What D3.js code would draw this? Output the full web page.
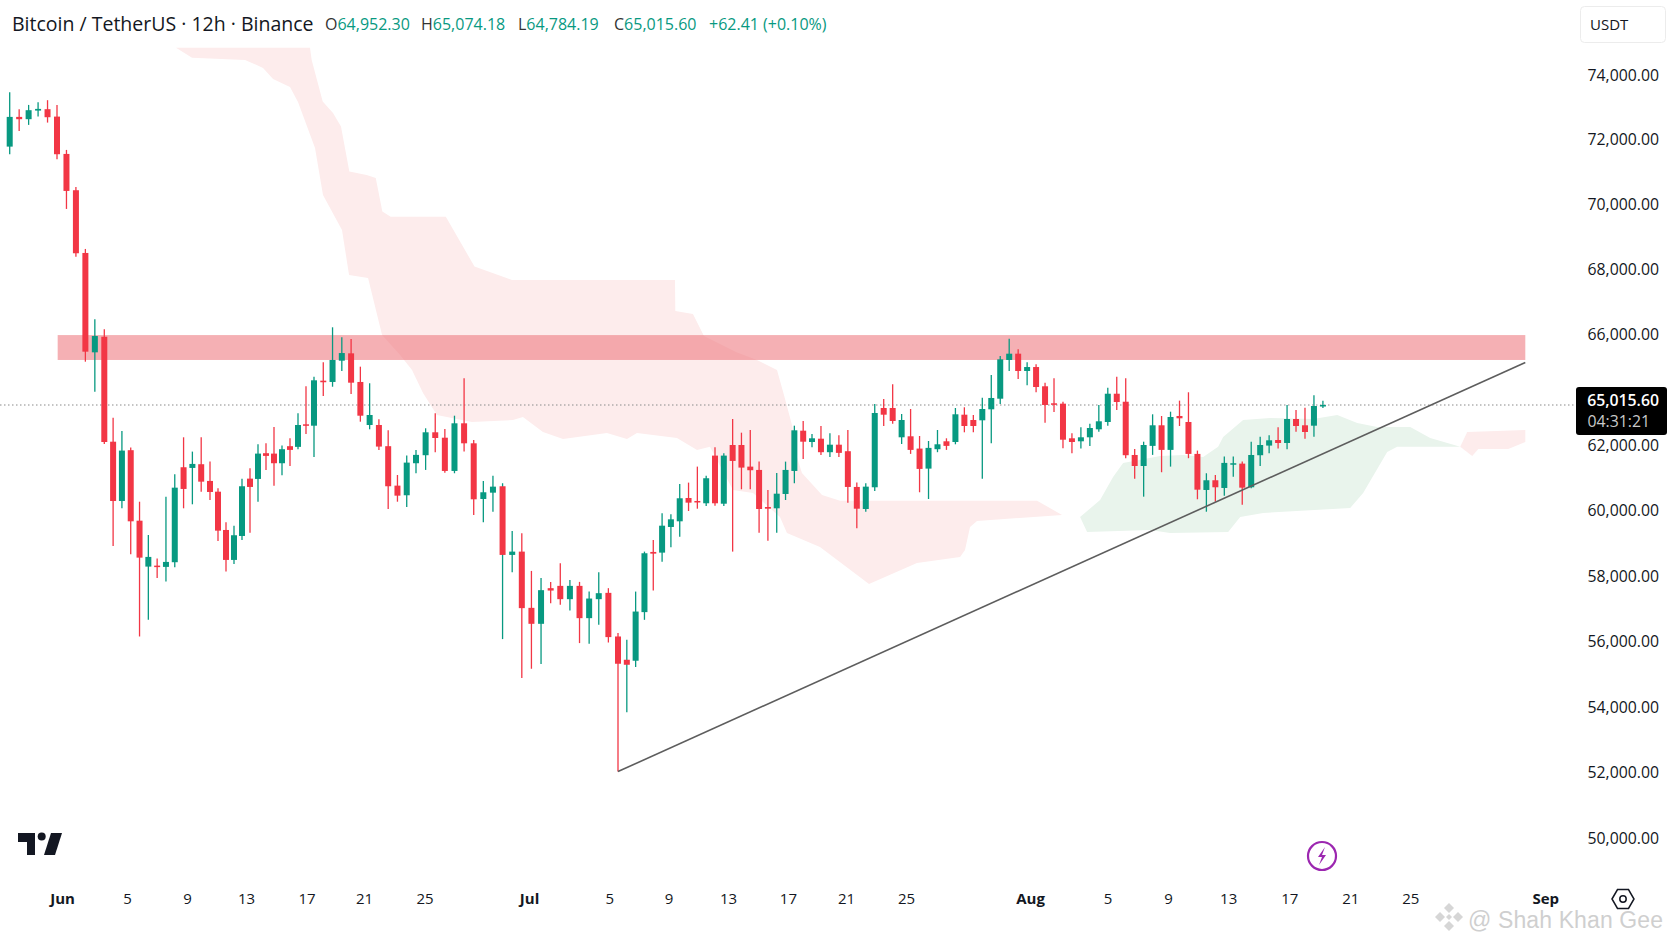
<!DOCTYPE html>
<html>
<head>
<meta charset="utf-8">
<script src="https://cdn.jsdelivr.net/npm/d3@7"></script>
<style>
  html, body { margin: 0; padding: 0; background: #fff; }
  svg { display: block; font-family: "Open Sans", sans-serif; }
</style>
</head>
<body>
<svg id="chart" width="1672" height="941"></svg>
<script>
// 12h candles
var opens = [71788,72706,72635,72900,72944,72715,71562,70441,68503,65746,
  65962,62249,60295,61842,59695,58292,58322,58283,58426,61323,
  61302,61415,60906,60579,59411,58496,59228,60976,60967,61750,
  61738,61445,61964,61943,63560,63456,65353,65335,65630,65732,
  65335,63508,63508,61964,60763,60470,61445,61689,62958,62550,
  61210,63636,62128,60357,60549,60744,58649,58750,57032,56544,
  57633,57703,57297,57703,56717,57297,57490,56157,55446,55416,
  56901,58740,58719,59503,59676,60387,60296,60226,61677,60213,
  62000,62000,61342,61241,60113,60073,60509,61210,63079,62226,
  62475,61781,62023,61811,60723,60052,60713,64790,64790,62581,
  62656,61891,61281,61872,62279,62226,64285,63885,63862,64691,
  65103,65640,65727,65487,65542,65275,65039,65034,62505,62279,
  62581,63184,63735,65172,65061,61696,61361,61973,63486,61851,
  64187,63735,61729,60631,60927,60692,61403,61433,60713,61689,
  61982,62377,62151,63960,63486,63456,64952.30];
var highs = [73469,72944,73076,73160,73222,73076,71686,70543,68627,66455,
  66145,64058,63056,61921,60274,59259,58536,60427,61110,62581,
  61799,62581,61494,60683,59646,59542,60976,61293,62053,62129,
  63357,61982,62505,64390,65275,65408,65608,66207,65954,65931,
  65547,65317,63938,63108,61087,61677,61851,63260,64390,63206,
  64209,65386,62377,60906,61067,60836,59381,59310,58160,57947,
  57825,58396,57886,57825,57529,58121,57633,56260,56056,57529,
  58750,59106,59920,59890,60814,60855,61342,61067,61933,61750,
  63960,62929,63131,61494,60631,61149,61494,63456,63810,62829,
  63432,62882,62732,63131,60855,60836,65030,65099,65303,64337,
  64714,62679,62301,63131,62505,64790,64843,64262,65117,65431,
  65695,65935,65788,65608,65580,65325,65386,65061,62882,63335,
  63606,65016,65256,65408,65386,61882,62249,64315,64187,64511,
  65076,65192,61830,61140,61087,61647,61647,61494,62249,62626,
  62732,63335,65016,64638,64813,65150,65074.18];
var lows = [71553,72273,72459,72715,72530,71399,69863,68389,65616,65200,
  62075,58923,60073,58670,56157,56666,57947,57834,58274,60073,
  60195,60579,60326,59076,58139,58374,59106,59329,60274,61241,
  60763,61080,61361,61872,62829,61631,65140,65269,65487,65168,
  63757,63184,61851,60052,60274,60113,61140,61241,61781,61159,
  61140,61799,59869,59646,59969,56077,58116,54888,55171,55315,
  57175,57123,56950,55955,55934,56514,55973,52030,53839,55224,
  56666,57560,58444,58883,59207,59990,60061,60143,60152,60143,
  58750,60652,60652,59329,59085,59329,60326,60836,61576,61933,
  61699,61637,61637,60245,59463,59969,60601,63433,63606,62075,
  61729,60561,60357,61781,61851,62053,62958,62958,60976,62128,
  65030,65487,65376,65289,65192,63681,64488,61903,61750,61891,
  61973,63003,63456,64638,61598,60976,60427,61699,61171,61342,
  63433,61598,60348,59969,60274,60457,61037,60183,60683,61363,
  61750,61891,61872,63003,62475,62626,64784.19];
var closes = [72706,72635,72913,72953,72696,71553,70419,68494,65755,65972,
  62226,60295,61830,59676,58566,58588,58283,58435,60701,60662,
  61424,60884,60570,59390,58496,59250,60744,60723,61738,61668,
  61445,61872,61851,63508,63456,65358,65331,65640,65736,65325,
  64209,64262,61952,60744,60458,61464,61699,62958,62528,61210,
  63636,62128,60347,60561,60732,58649,58750,57023,56544,57572,
  57560,57297,57703,56717,57316,57480,56138,55324,55293,56919,
  58700,58688,59542,59737,60378,60245,60256,60988,60226,61677,
  61515,61312,61232,60052,60061,60518,61241,63108,62249,62505,
  61781,62023,61760,60723,60061,60732,64413,64285,63810,63885,
  61851,61272,61912,62053,61973,64315,63433,63433,64714,65113,
  65649,65727,65487,65542,65265,65016,65025,62400,62226,62581,
  63282,63787,65172,65057,61689,61361,62000,63486,61851,64111,
  64014,61729,60640,60927,60713,61455,61445,60701,61696,62000,
  62355,62151,63960,63433,62980,64940,65015.60];
// bars whose lower wick shows up teal although the body is red
var tealWicks = [55, 68];

// Ichimoku cloud edges: [bar slot, price]
var redCloudUpper = [[18.14,74838],[34.5,74838],[34.71,74467],[35.94,73178],[37.05,72829],[37.91,72406],[38.81,71016],
  [40.68,70914],[41.66,70821],[42.37,69780],[43.27,69625],[49.1,69625],[52.08,68083],[55.98,67669],[73.46,67669],
  [73.5,66711],[75.5,66618],[76.75,65972],[80.38,65750],[82.76,65640],[85.03,65501],[85.82,65154],[86.73,63508],
  [87.29,61637],[87.86,61149],[90.12,60478],[92.13,60305],[114.11,60305],[116.9,59869]];
var redCloudLower = [[18.14,74838],[19.96,74529],[26.38,74467],[28.63,74220],[29.88,73880],[32,73633],[33,73169],
  [35.11,71748],[35.97,70296],[38.02,69214],[38.78,67823],[40.83,67731],[42.34,65986],[44.28,65709],[45.57,65501],
  [46.73,65182],[48.18,64262],[51.82,63734],[56.08,63885],[57.12,64111],[59.2,62980],[61.28,62453],[65.85,62905],
  [68.02,62453],[69.15,62905],[73.69,62528],[75.96,61851],[77.43,61943],[80.04,60631],[82.31,60540],[85.37,59807],
  [86.16,59320],[89.89,58892],[95.36,57764],[100.71,58404],[105.52,58587],[106.07,58801],[106.63,59503],[107.41,59686],
  [116.9,59869]];
var greenCloudUpper = [[116.9,59869],[118.91,59807],[121.14,60326],[122.59,61027],[123.71,61455],[127.84,61668],
  [130.41,61699],[132.64,61637],[134.31,61943],[134.87,62603],[137.1,63885],[140.12,64036],[144.92,63960],[147.6,64262],
  [149.83,63659],[152.06,63357],[155.74,63357],[157.97,62528],[161.32,61943]];
var greenCloudLower = [[116.9,59869],[118.91,59807],[119.69,59350],[126.72,59411],[128.95,59320],[135.43,59350],
  [136.77,59807],[139.33,59930],[149.04,60082],[150.49,60540],[153.17,61790],[154.29,61943],[161.32,61943]];
var redCloud2Upper = [[161.32,61943],[162.1,62980],[168.58,63131]];
var redCloud2Lower = [[161.32,61943],[162.66,61668],[163.33,61882],[166.68,61882],[168.58,62226]];

var resistanceBand = [65985, 65640];
var bandSlots = [5.07, 168.58];
var trendSlots = [67, 168.58];
var trendPrices = [52030, 65605];
var lastPrice = 65015.60;

var priceTicks = [74000,72000,70000,68000,66000,62000,60000,58000,56000,54000,52000,50000];
var timeLabels = ["Jun","5","9","13","17","21","25","Jul","5","9","13","17","21","25","Aug","5","9","13","17","21","25","Sep"];
var timeSlots = [5.53,12.58,19.39,26.5,34.06,40.4,46.88,57.75,66.1,72.74,79.47,86.27,92.79,99.49,113.33,121.98,128.73,135.43,142.24,149.05,155.74,170.8];
var boldLabels = ["Jun","Jul","Aug","Sep"];

var upColor = "#089981", downColor = "#f23645", textColor = "#131722";

var svg = d3.select("#chart");

// time slots run a little unevenly in the screenshot
var x = d3.scaleLinear()
  .domain([0, 10, 22, 35, 46, 67, 89, 171])
  .range([9.7, 104.3, 210, 314, 416, 618, 812, 1547]);
// price axis of the screenshot is not evenly spaced around the last price
var y = d3.scaleLinear()
  .domain([74000, 66000, lastPrice, 62000, 60000, 50000])
  .range([75, 334, 405, 445, 510.7, 838]);

var edge = d3.line().x((d) => x(d[0])).y((d) => y(d[1]));

var cloudPath = (upper, lower) => edge(upper.concat(lower.slice().reverse())) + "Z";

var clouds = svg.append("g");
clouds.append("path").attr("d", cloudPath(redCloudUpper, redCloudLower)).attr("fill", "#fdecec");
clouds.append("path").attr("d", cloudPath(greenCloudUpper, greenCloudLower)).attr("fill", "#e9f4ec");
clouds.append("path").attr("d", cloudPath(redCloud2Upper, redCloud2Lower)).attr("fill", "#fdecec");

svg.append("rect")
  .attr("x", x(bandSlots[0]))
  .attr("y", y(resistanceBand[0]))
  .attr("width", x(bandSlots[1]) - x(bandSlots[0]))
  .attr("height", y(resistanceBand[1]) - y(resistanceBand[0]))
  .attr("fill", "rgb(238,124,130)")
  .attr("fill-opacity", 0.6);

svg.append("line")
  .attr("x1", 0).attr("x2", 1577)
  .attr("y1", y(lastPrice)).attr("y2", y(lastPrice))
  .attr("stroke", "#8a8a8a")
  .attr("stroke-width", 1.2)
  .attr("stroke-dasharray", "1.5 2.5");

var bars = svg.append("g").selectAll("g").data(d3.range(opens.length)).join("g");

bars.append("line")
  .attr("x1", (i) => x(i)).attr("x2", (i) => x(i))
  .attr("y1", (i) => y(highs[i])).attr("y2", (i) => y(lows[i]))
  .attr("stroke-width", 1.3)
  .attr("stroke", (i) => tealWicks.includes(i) || closes[i] >= opens[i] ? upColor : downColor);

bars.append("rect")
  .attr("x", (i) => x(i) - 3)
  .attr("width", 6)
  .attr("y", (i) => y(Math.max(opens[i], closes[i])))
  .attr("height", (i) => Math.max(1.5, Math.abs(y(opens[i]) - y(closes[i]))))
  .attr("fill", (i) => closes[i] >= opens[i] ? upColor : downColor);

svg.append("line")
  .attr("x1", x(trendSlots[0])).attr("y1", y(trendPrices[0]))
  .attr("x2", x(trendSlots[1])).attr("y2", y(trendPrices[1]))
  .attr("stroke", "#5d5d5d")
  .attr("stroke-width", 1.6);

// axes
var yAxis = svg.append("g")
  .attr("transform", "translate(1659,0)")
  .call(d3.axisRight(y).tickValues(priceTicks).tickFormat(d3.format(",.2f")).tickSize(0));
yAxis.select(".domain").remove();
yAxis.selectAll("text")
  .attr("x", 0)
  .attr("text-anchor", "end")
  .attr("fill", textColor)
  .style("font-family", '"Open Sans", sans-serif')
  .style("font-size", "15.8px");

var xAxis = svg.append("g")
  .attr("transform", "translate(0,899)")
  .call(d3.axisBottom(x).tickValues(timeSlots).tickFormat((d, i) => timeLabels[i]).tickSize(0));
xAxis.select(".domain").remove();
xAxis.selectAll("text")
  .attr("y", 0)
  .attr("dy", "0.35em")
  .attr("fill", textColor)
  .style("font-family", '"Open Sans", sans-serif')
  .style("font-size", "15px")
  .style("font-weight", function () {
    return boldLabels.includes(d3.select(this).text()) ? 700 : 500;
  });

// last price tag
svg.append("rect")
  .attr("x", 1576).attr("y", 387).attr("width", 91).attr("height", 48).attr("rx", 3)
  .attr("fill", "#000");
svg.append("text").attr("x", 1659).attr("y", 405.5).attr("text-anchor", "end")
  .attr("fill", "#fff").attr("font-size", 15.8).attr("font-weight", 600)
  .text(d3.format(",.2f")(lastPrice));
svg.append("text").attr("x", 1650).attr("y", 427).attr("text-anchor", "end")
  .attr("fill", "#c9c9c9").attr("font-size", 15.8)
  .text("04:31:21");

// header
svg.append("text").attr("x", 12).attr("y", 31).attr("fill", textColor).attr("font-size", 19.5)
  .text("Bitcoin / TetherUS · 12h · Binance");

var ohlc = [["O", "64,952.30", 325], ["H", "65,074.18", 421], ["L", "64,784.19", 518], ["C", "65,015.60", 614]];
ohlc.forEach((d) => {
  var t = svg.append("text").attr("x", d[2]).attr("y", 30).attr("font-size", 16).attr("fill", upColor);
  t.append("tspan").attr("fill", "#333").text(d[0]);
  t.append("tspan").text(d[1]);
});
svg.append("text").attr("x", 709).attr("y", 30).attr("font-size", 16).attr("fill", upColor)
  .text("+62.41 (+0.10%)");

svg.append("rect")
  .attr("x", 1580.5).attr("y", 6.5).attr("width", 85).attr("height", 36).attr("rx", 4)
  .attr("fill", "#fff").attr("stroke", "#ececec");
svg.append("text").attr("x", 1590).attr("y", 30).attr("font-size", 15).attr("fill", textColor).text("USDT");

// TradingView logo
var logo = svg.append("g").attr("fill", "#131722");
logo.append("path").attr("d", "M18 833h17v22h-8v-13h-9z");
logo.append("circle").attr("cx", 41.7).attr("cy", 836.5).attr("r", 4);
logo.append("path").attr("d", "M51 833h11l-7 22h-11z");

// bolt icon
svg.append("circle")
  .attr("cx", 1322).attr("cy", 856).attr("r", 14)
  .attr("fill", "none").attr("stroke", "#9c27b0").attr("stroke-width", 2.2);
svg.append("path").attr("d", "M1325 847l-7 10h4l-3 8 7-10h-4z").attr("fill", "#9c27b0");

// settings icon
svg.append("path").attr("d", "M1612 899l5.500-9.500h11l5.500 9.500-5.500 9.500h-11z")
  .attr("fill", "none").attr("stroke", textColor).attr("stroke-width", 1.5);
svg.append("circle").attr("cx", 1623).attr("cy", 899).attr("r", 3.2)
  .attr("fill", "none").attr("stroke", textColor).attr("stroke-width", 1.5);

// watermark
var mark = svg.append("g").attr("fill", "#d6d6d6");
[[1449, 908, 5], [1440, 917, 5], [1458, 917, 5], [1449, 926, 5], [1449, 917, 3]].forEach((d) => {
  mark.append("path").attr("d", `M${d[0]} ${d[1] - d[2]}l${d[2]} ${d[2]}l${-d[2]} ${d[2]}l${-d[2]} ${-d[2]}z`);
});
svg.append("text").attr("x", 1468).attr("y", 928).attr("font-size", 23)
  .attr("textLength", 195)
  .style("font-family", '"Liberation Sans", sans-serif')
  .attr("fill", "#cfcfcf").text("@ Shah Khan Gee");
</script>
</body>
</html>
